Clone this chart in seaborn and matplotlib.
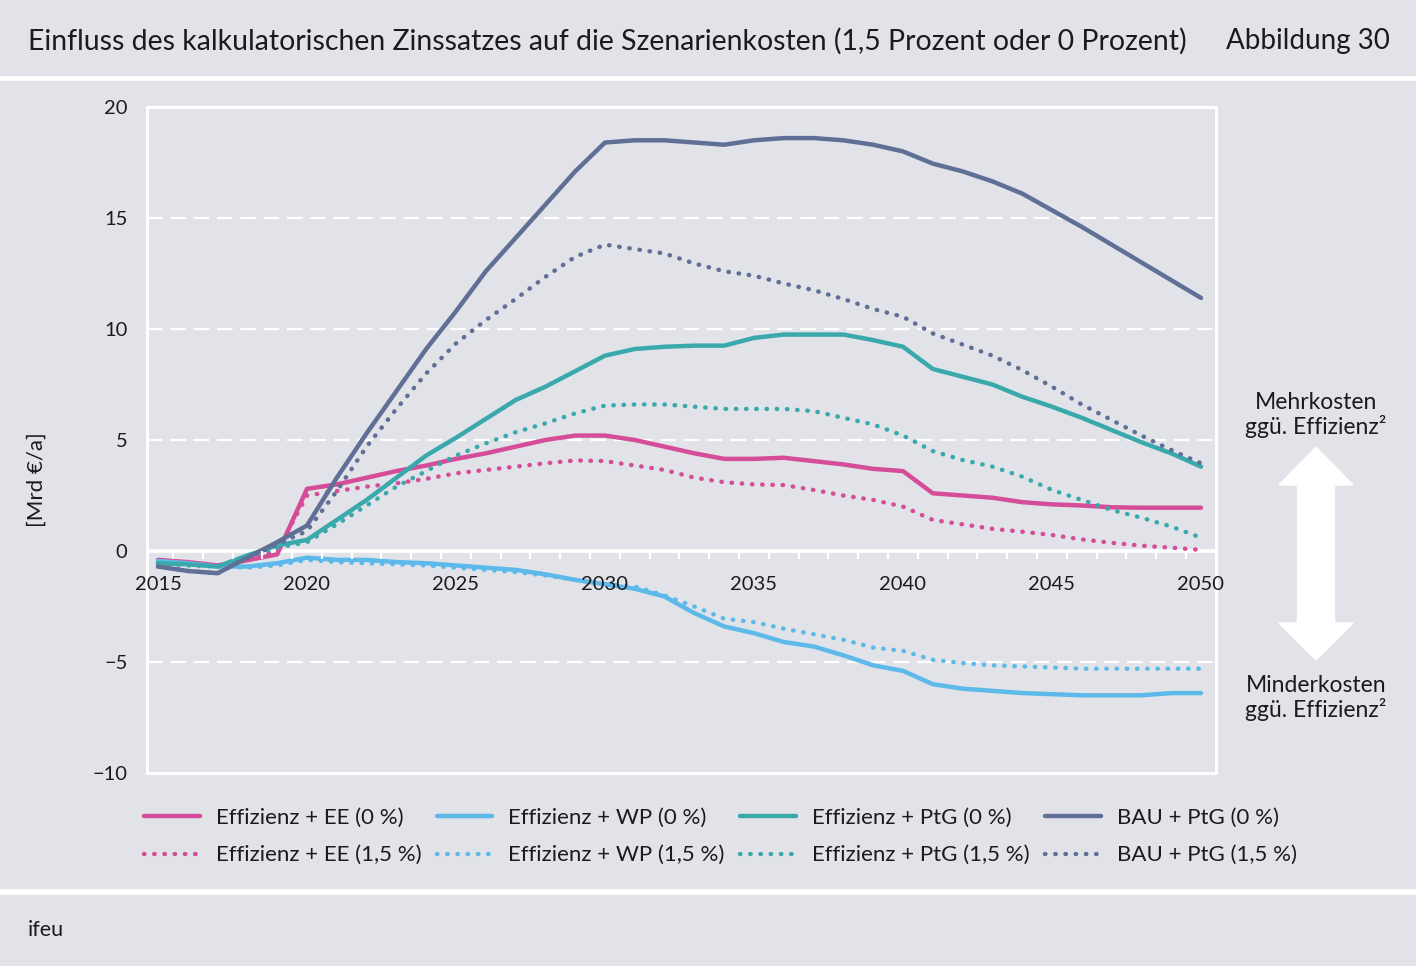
import numpy as np
import pandas as pd
import matplotlib
matplotlib.use("Agg")
import matplotlib.pyplot as plt
import matplotlib.patches as mpatches
import seaborn as sns

# Daten (Mrd €/a, Differenz ggü. Effizienz²)
years = list(range(2015, 2051))

ee_0 = [-0.4, -0.5, -0.65, -0.42, -0.15, 2.8, 3.0, 3.3, 3.6, 3.85, 4.15, 4.4, 4.7, 5.0, 5.2, 5.2,
        5.0, 4.7, 4.4, 4.15, 4.15, 4.2, 4.05, 3.9, 3.7, 3.6, 2.6, 2.5, 2.4, 2.2, 2.1, 2.05, 1.97, 1.95, 1.95, 1.95]
ee_15 = [-0.5, -0.6, -0.7, -0.35, 0.0, 2.5, 2.7, 2.9, 3.05, 3.25, 3.5, 3.65, 3.8, 3.95, 4.08, 4.05,
         3.85, 3.65, 3.3, 3.1, 3.0, 2.97, 2.75, 2.5, 2.3, 2.0, 1.4, 1.2, 1.0, 0.87, 0.72, 0.52, 0.37, 0.24, 0.15, 0.05]
wp_0 = [-0.45, -0.55, -0.7, -0.7, -0.55, -0.3, -0.4, -0.4, -0.5, -0.55, -0.65, -0.75, -0.85, -1.05, -1.3, -1.5,
        -1.7, -2.05, -2.8, -3.4, -3.7, -4.1, -4.3, -4.7, -5.15, -5.4, -6.0, -6.2, -6.3, -6.4, -6.45, -6.5, -6.5, -6.5, -6.4, -6.4]
wp_15 = [-0.5, -0.6, -0.7, -0.75, -0.65, -0.4, -0.5, -0.55, -0.6, -0.65, -0.75, -0.85, -0.95, -1.1, -1.3, -1.5,
         -1.6, -2.0, -2.5, -3.05, -3.2, -3.5, -3.75, -4.0, -4.35, -4.5, -4.9, -5.05, -5.15, -5.2, -5.25, -5.3, -5.3, -5.3, -5.3, -5.3]
ptg_0 = [-0.55, -0.6, -0.7, -0.2, 0.25, 0.5, 1.4, 2.3, 3.3, 4.3, 5.1, 5.95, 6.8, 7.4, 8.1, 8.8,
         9.1, 9.2, 9.25, 9.25, 9.6, 9.75, 9.75, 9.75, 9.5, 9.2, 8.2, 7.85, 7.5, 6.95, 6.5, 6.0, 5.45, 4.9, 4.4, 3.8]
ptg_15 = [-0.55, -0.65, -0.7, -0.25, 0.15, 0.4, 1.2, 2.05, 2.9, 3.6, 4.3, 4.85, 5.35, 5.75, 6.2, 6.55,
          6.6, 6.6, 6.5, 6.4, 6.4, 6.4, 6.3, 6.0, 5.7, 5.2, 4.5, 4.1, 3.8, 3.35, 2.75, 2.3, 1.85, 1.5, 1.1, 0.6]
bau_0 = [-0.7, -0.9, -1.0, -0.3, 0.4, 1.15, 3.3, 5.3, 7.2, 9.1, 10.8, 12.6, 14.1, 15.6, 17.1, 18.4,
         18.5, 18.5, 18.4, 18.3, 18.5, 18.6, 18.6, 18.5, 18.3, 18.0, 17.45, 17.1, 16.65, 16.1, 15.35, 14.6, 13.8, 13.0, 12.2, 11.4]
bau_15 = [-0.7, -0.9, -1.0, -0.3, 0.3, 0.9, 2.7, 4.7, 6.4, 8.0, 9.35, 10.4, 11.35, 12.35, 13.25, 13.8,
          13.6, 13.4, 12.95, 12.6, 12.4, 12.05, 11.75, 11.35, 10.9, 10.55, 9.8, 9.3, 8.8, 8.15, 7.4, 6.6, 5.9, 5.2, 4.55, 3.95]

labels = ["Effizienz + EE (0 %)", "Effizienz + EE (1,5 %)",
          "Effizienz + WP (0 %)", "Effizienz + WP (1,5 %)",
          "Effizienz + PtG (0 %)", "Effizienz + PtG (1,5 %)",
          "BAU + PtG (0 %)", "BAU + PtG (1,5 %)"]
series = [ee_0, ee_15, wp_0, wp_15, ptg_0, ptg_15, bau_0, bau_15]
colors = ["#d54d98", "#d54d98", "#5db9e9", "#5db9e9",
          "#3aa9ac", "#3aa9ac", "#5f6f96", "#5f6f96"]
dotted = [False, True, False, True, False, True, False, True]

year_ticks = list(range(2015, 2051, 5))
y_ticks = [-10, -5, 0, 5, 10, 15, 20]

W, H = 1416, 966
BG = "#e2e3e8"
TXT = "#1b1b1b"

sns.set_style("white")
plt.rcParams["font.family"] = ["Lato", "DejaVu Sans"]

fig = plt.figure(figsize=(W / 100, H / 100), dpi=100, facecolor="white")

# graue Felder (Titel, Grafik, Quelle)
for y0, y1 in [(0, 75), (81, 888), (895, 966)]:
    fig.patches.append(mpatches.Rectangle((0, 1 - y1 / H), 1, (y1 - y0) / H,
                                          transform=fig.transFigure, color=BG, zorder=-5))

ax = fig.add_axes([147 / W, 1 - 773 / H, (1216 - 147) / W, (773 - 107) / H])
ax.set_facecolor(BG)

for vals, lab, col, dot in zip(series, labels, colors, dotted):
    df = pd.DataFrame({"Jahr": years, "Wert": vals})
    if dot:
        sns.lineplot(data=df, x="Jahr", y="Wert", ax=ax, color=col, lw=3.2,
                     linestyle=(0, (0.1, 2.2)), label=lab, zorder=3)
    else:
        sns.lineplot(data=df, x="Jahr", y="Wert", ax=ax, color=col, lw=3.2,
                     label=lab, zorder=3)
for line in ax.lines:
    line.set_dash_capstyle("round")
    line.set_solid_capstyle("round")

handles, labs = ax.get_legend_handles_labels()
ax.get_legend().remove()

ax.set_xlim(2015 - 11 / 29.8, 2050 + 15 / 29.8)
ax.set_ylim(-10, 20)
ax.set_yticks(y_ticks)
ax.set_yticklabels([str(v).replace("-", "\u2212") for v in y_ticks])
ax.tick_params(axis="y", length=0, pad=14, labelsize=14.5, labelcolor=TXT)
ax.set_xticks([])
ax.set_xlabel("")
ax.set_ylabel("")
ax.grid(False)
for v in y_ticks:
    if v not in (-10, 0, 20):
        ax.axhline(v, color="white", lw=1.6, dashes=(7, 3.5), zorder=1)
ax.axhline(0, color="white", lw=2.6, zorder=1.5)
for sp in ax.spines.values():
    sp.set_color("white")
    sp.set_linewidth(2.2)

# Jahresachse auf der Nulllinie
sec = ax.secondary_xaxis(1 / 3)
sec.set_zorder(4)
sec.spines["bottom"].set_visible(False)
sec.set_xticks(year_ticks)
sec.set_xticks(np.arange(2015.5, 2050.6, 1), minor=True)
sec.tick_params(which="major", length=0, pad=18, labelsize=14.5, labelcolor=TXT)
sec.tick_params(which="minor", length=6, width=1.6, color="white", direction="out")

fig.text(28 / W, 1 - 41 / H,
         "Einfluss des kalkulatorischen Zinssatzes auf die Szenarienkosten (1,5 Prozent oder 0 Prozent)",
         fontsize=20.4, color=TXT, va="center", ha="left")
fig.text(1390 / W, 1 - 41 / H, "Abbildung 30", fontsize=20, color=TXT, va="center", ha="right")
fig.text(28 / W, 1 - 930 / H, "ifeu", fontsize=15.5, color=TXT, va="center", ha="left")
fig.text(37 / W, 1 - 480 / H, "[Mrd €/a]", fontsize=16, color=TXT, va="center", ha="center",
         rotation=90)

fig.text(1316 / W, 1 - 415 / H, "Mehrkosten\nggü. Effizienz²", fontsize=16.5, color=TXT,
         va="center", ha="center", linespacing=1.15)
fig.text(1316 / W, 1 - 698 / H, "Minderkosten\nggü. Effizienz²", fontsize=16.5, color=TXT,
         va="center", ha="center", linespacing=1.15)

# Doppelpfeil
cx, sw, hw = 1316, 18.5, 37
ytop, yhb1, yhb2, ybot = 447, 485, 623, 660
pts = [(cx, ytop), (cx + hw, yhb1), (cx + sw, yhb1), (cx + sw, yhb2), (cx + hw, yhb2), (cx, ybot),
       (cx - hw, yhb2), (cx - sw, yhb2), (cx - sw, yhb1), (cx - hw, yhb1)]
fig.patches.append(mpatches.Polygon([(x / W, 1 - y / H) for x, y in pts], closed=True,
                                    transform=fig.transFigure, color="white", zorder=1))

fig.legend(handles, labs, ncol=4, loc="upper left", bbox_to_anchor=(144 / W, 1 - 808 / H),
           frameon=False, fontsize=16, handlelength=2.5, handletextpad=0.72,
           columnspacing=0.7, labelspacing=0.78, borderpad=0, borderaxespad=0,
           labelcolor=TXT)

fig.savefig("out.png", dpi=100, facecolor="white")
